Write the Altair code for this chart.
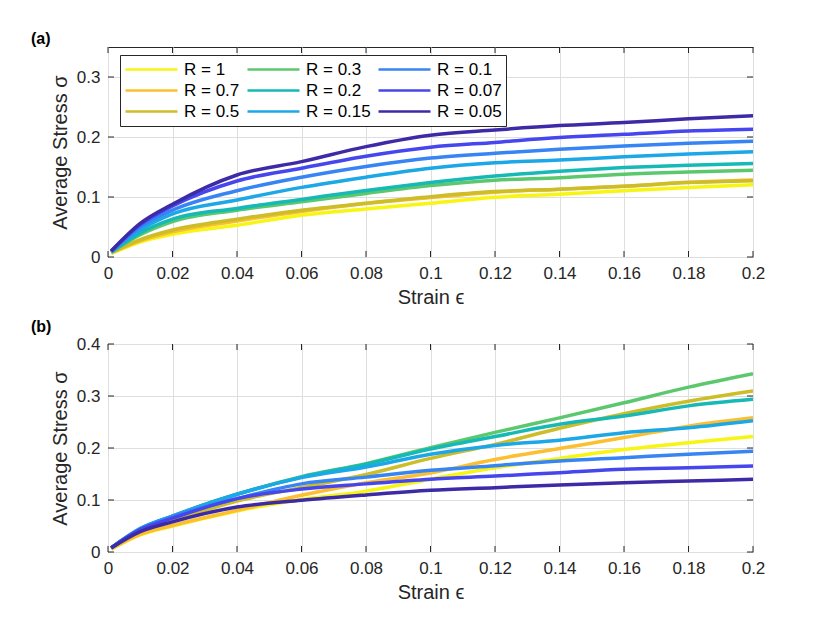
import altair as alt
import pandas as pd

# ---------------- data ----------------
strain = [0.001, 0.01, 0.02, 0.04, 0.06, 0.08, 0.1, 0.12, 0.14, 0.16, 0.18, 0.2]

r_labels = ["R = 1", "R = 0.7", "R = 0.5", "R = 0.3", "R = 0.2",
            "R = 0.15", "R = 0.1", "R = 0.07", "R = 0.05"]
r_colors = ["#f7f514", "#fbbf2f", "#cdbd28", "#5cc86e", "#16b9b5",
            "#1ca7e6", "#3784f5", "#4646ee", "#3d2aa6"]

# panel (a)
a_r1   = [0.006, 0.025, 0.038, 0.053, 0.0695, 0.080, 0.0895, 0.0995, 0.1045, 0.1105, 0.116, 0.1205]
a_r07  = [0.007, 0.027, 0.042, 0.060, 0.076, 0.089, 0.099, 0.108, 0.113, 0.118, 0.1245, 0.1285]
a_r05  = [0.007, 0.029, 0.045, 0.063, 0.078, 0.0895, 0.1005, 0.109, 0.113, 0.118, 0.124, 0.127]
a_r03  = [0.008, 0.037, 0.059, 0.078, 0.092, 0.106, 0.119, 0.128, 0.132, 0.138, 0.1417, 0.1445]
a_r02  = [0.008, 0.040, 0.063, 0.081, 0.096, 0.111, 0.124, 0.135, 0.143, 0.149, 0.153, 0.156]
a_r015 = [0.009, 0.045, 0.0717, 0.095, 0.116, 0.133, 0.148, 0.157, 0.1617, 0.167, 0.1717, 0.1755]
a_r01  = [0.009, 0.050, 0.078, 0.1105, 0.133, 0.151, 0.165, 0.173, 0.1795, 0.185, 0.1895, 0.193]
a_r007 = [0.010, 0.054, 0.085, 0.1267, 0.148, 0.168, 0.183, 0.191, 0.199, 0.2045, 0.210, 0.213]
a_r005 = [0.010, 0.056, 0.088, 0.1367, 0.159, 0.184, 0.203, 0.2117, 0.219, 0.224, 0.2305, 0.2355]

# panel (b)
b_r1   = [0.006, 0.033, 0.050, 0.079, 0.101, 0.117, 0.140, 0.162, 0.180, 0.197, 0.210, 0.222]
b_r07  = [0.006, 0.034, 0.051, 0.080, 0.109, 0.133, 0.152, 0.178, 0.199, 0.220, 0.242, 0.258]
b_r05  = [0.007, 0.040, 0.060, 0.098, 0.124, 0.149, 0.180, 0.207, 0.238, 0.266, 0.290, 0.3096]
b_r03  = [0.008, 0.044, 0.069, 0.111, 0.145, 0.170, 0.2006, 0.230, 0.258, 0.287, 0.317, 0.343]
b_r02  = [0.008, 0.045, 0.069, 0.111, 0.144, 0.1686, 0.198, 0.222, 0.2455, 0.2615, 0.281, 0.2936]
b_r015 = [0.008, 0.045, 0.069, 0.111, 0.143, 0.1635, 0.188, 0.205, 0.215, 0.2295, 0.239, 0.2526]
b_r01  = [0.008, 0.044, 0.068, 0.1026, 0.131, 0.144, 0.157, 0.166, 0.175, 0.1814, 0.188, 0.1936]
b_r007 = [0.008, 0.043, 0.065, 0.1026, 0.121, 0.131, 0.140, 0.146, 0.1526, 0.159, 0.162, 0.1654]
b_r005 = [0.008, 0.039, 0.058, 0.0865, 0.0994, 0.1096, 0.1186, 0.1237, 0.129, 0.1333, 0.1365, 0.1397]

series_a = [a_r1, a_r07, a_r05, a_r03, a_r02, a_r015, a_r01, a_r007, a_r005]
series_b = [b_r1, b_r07, b_r05, b_r03, b_r02, b_r015, b_r01, b_r007, b_r005]

x_ticks = [0, 0.02, 0.04, 0.06, 0.08, 0.1, 0.12, 0.14, 0.16, 0.18, 0.2]
y_ticks_a = [0, 0.1, 0.2, 0.3]
y_ticks_b = [0, 0.1, 0.2, 0.3, 0.4]

FONT = "Liberation Sans"
INK = "#262626"
W = 645


def make_panel(series, ymax, yticks, h, tag):
    rows = []
    for k, (lab, vals) in enumerate(zip(r_labels, series)):
        for x, y in zip(strain, vals):
            rows.append({"strain": x, "stress": y, "R": lab, "k": k})
    df = pd.DataFrame(rows)

    xscale = alt.Scale(domain=[0, 0.2], nice=False, zero=False)
    yscale = alt.Scale(domain=[0, ymax], nice=False, zero=False)
    xaxis = alt.Axis(values=x_ticks, format="~g", title="Strain ϵ",
                     labelFlush=False, labelOverlap=False)
    yaxis = alt.Axis(values=yticks, format="~g", title="Average Stress σ",
                     labelOverlap=False)

    lines = alt.Chart(df).mark_line(strokeWidth=3.5, clip=True, interpolate="monotone").encode(
        x=alt.X("strain:Q", scale=xscale, axis=xaxis),
        y=alt.Y("stress:Q", scale=yscale, axis=yaxis),
        color=alt.Color("R:N",
                        scale=alt.Scale(domain=r_labels, range=r_colors),
                        legend=alt.Legend(
                            orient="none", legendX=12, legendY=8, columns=3,
                            title=None, symbolType="stroke", symbolSize=2704,
                            symbolStrokeWidth=2.5, clipHeight=21,
                            labelFontSize=17, labelFont=FONT, labelColor="black",
                            labelOffset=5, columnPadding=6, rowPadding=0,
                            padding=4, fillColor="white", strokeColor=INK,
                            cornerRadius=0)),
        detail="k:O",
    )

    xt = pd.DataFrame({"strain": x_ticks})
    yt = pd.DataFrame({"stress": yticks})
    tick_style = dict(color=INK, strokeWidth=1)
    bx = alt.Chart(xt).mark_rule(**tick_style).encode(
        x=alt.X("strain:Q", scale=xscale, axis=xaxis), y=alt.value(h), y2=alt.value(h - 6))
    tx = alt.Chart(xt).mark_rule(**tick_style).encode(
        x=alt.X("strain:Q", scale=xscale, axis=xaxis), y=alt.value(0), y2=alt.value(6))
    ly = alt.Chart(yt).mark_rule(**tick_style).encode(
        y=alt.Y("stress:Q", scale=yscale, axis=yaxis), x=alt.value(0), x2=alt.value(6))
    ry = alt.Chart(yt).mark_rule(**tick_style).encode(
        y=alt.Y("stress:Q", scale=yscale, axis=yaxis), x=alt.value(W), x2=alt.value(W - 6))

    return alt.layer(lines, bx, tx, ly, ry).properties(
        width=W, height=h,
        title=alt.TitleParams(text=tag, anchor="start", frame="group", dx=-77,
                              fontSize=16, fontWeight="bold", font=FONT,
                              color="black", offset=0),
    )


pa = make_panel(series_a, 0.35, y_ticks_a, 210, "(a)")
pb = make_panel(series_b, 0.4, y_ticks_b, 208, "(b)")

chart = alt.vconcat(pa, pb, spacing=10).properties(
    padding={"left": 22, "top": 22, "right": 10, "bottom": 5}
).configure_view(
    stroke=INK, strokeWidth=1
).configure_axis(
    domain=False, ticks=False, grid=True, gridColor="#dedede", gridWidth=1,
    labelFont=FONT, labelFontSize=17, labelColor=INK, labelPadding=8,
    titleFont=FONT, titleFontSize=20, titleFontWeight="normal", titleColor=INK,
    titlePadding=6,
).configure_legend(
    labelLimit=200
)

chart.save("out.html", embed_options={"renderer": "svg", "actions": False})
